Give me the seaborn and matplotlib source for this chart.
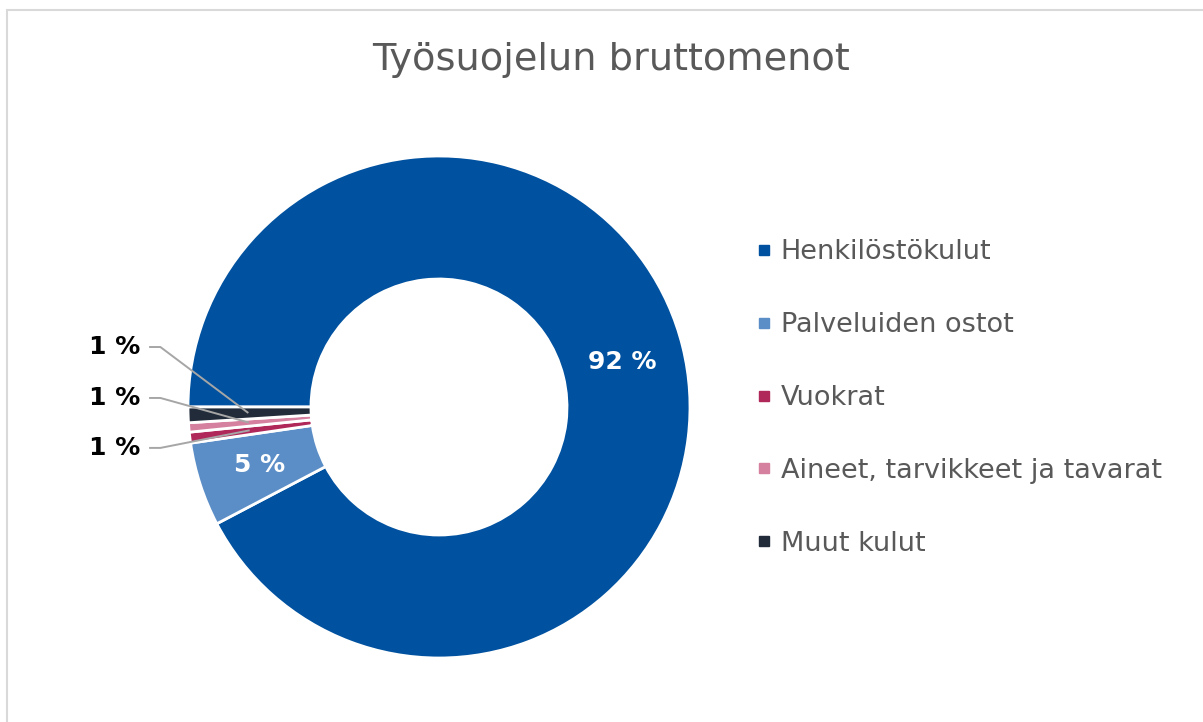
import numpy as np
import matplotlib
matplotlib.use("Agg")
import matplotlib.pyplot as plt
import seaborn as sns
from matplotlib.lines import Line2D

# data (percent of gross expenses)
categories = ["Henkilöstökulut", "Palveluiden ostot", "Vuokrat",
              "Aineet, tarvikkeet ja tavarat", "Muut kulut"]
shares = [92.3, 5.4, 0.7, 0.6, 1.0]
colors = ["#00519F", "#5B8EC7", "#B0285A", "#D680A0", "#212B3A"]
title = "Työsuojelun bruttomenot"

sns.set_theme(style="white")
plt.rcParams["font.family"] = ["DejaVu Sans"]

W, H = 1203, 722
fig = plt.figure(figsize=(W / 100, H / 100), dpi=100)
ax = fig.add_axes([0, 0, 1, 1])

# donut centre at (439, 407) px, outer radius 251 px
cx, cy, R = 439, 407, 251


def pct_label(p):
    return f"{p:.0f} %" if p > 3 else ""


wedges, _, autotexts = ax.pie(
    shares, colors=colors, startangle=180, counterclock=False,
    radius=1, autopct=pct_label, pctdistance=0.75,
    wedgeprops=dict(width=0.49, edgecolor="white", linewidth=2),
    textprops=dict(color="white", fontsize=18, fontweight="bold"))

ax.set_xlim(-cx / R, (W - cx) / R)
ax.set_ylim(-(H - cy) / R, cy / R)
ax.set_aspect("auto")
ax.axis("off")

# leader-line labels for the small slices (top to bottom: Muut, Aineet, Vuokrat)
small = [(4, 0.239), (3, 0.036), (2, -0.163)]
for idx, ty in small:
    w = wedges[idx]
    mid = np.deg2rad((w.theta1 + w.theta2) / 2)
    px, py = 0.76 * np.cos(mid), 0.76 * np.sin(mid)
    ax.plot([-1.155, -1.11, px], [ty, ty, py], color="#A6A6A6", lw=1.4,
            solid_capstyle="butt")
    ax.text(-1.19, ty, f"{round(shares[idx] + 1e-9):.0f} %", ha="right",
            va="center", fontsize=18, fontweight="bold", color="black")

fig.text(611 / W, 1 - 60 / H, title, ha="center", va="center",
         fontsize=27.5, color="#595959")

handles = [Line2D([], [], marker="s", linestyle="none", markersize=6.5,
                  markerfacecolor=c, markeredgecolor=c) for c in colors]
fig.legend(handles, categories, loc="center left",
           bbox_to_anchor=(744 / W, 1 - 398 / H), frameon=False,
           fontsize=19.5, labelcolor="#595959", handlelength=0.5,
           handletextpad=0.35, labelspacing=1.73, borderpad=0)

# chart area border (top and left visible)
fig.add_artist(Line2D([7 / W, 1], [1 - 10 / H, 1 - 10 / H], color="#D9D9D9",
                      lw=1.5, transform=fig.transFigure))
fig.add_artist(Line2D([7 / W, 7 / W], [0, 1 - 10 / H], color="#D9D9D9",
                      lw=1.5, transform=fig.transFigure))

fig.savefig("out.png", dpi=100, facecolor="white")
